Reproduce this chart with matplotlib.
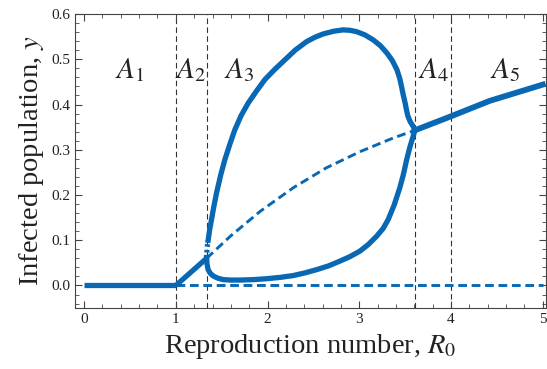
import matplotlib
matplotlib.use('Agg')
import matplotlib.pyplot as plt
from matplotlib.ticker import MultipleLocator

# stable disease-free state (R0 < 1) and unstable zero branch
r_zero_stable = [0.0, 1.0]
y_zero_stable = [0.0, 0.0]
r_zero_unstable = [1.0, 5.0]
y_zero_unstable = [0.0, 0.0]

# endemic branch between R0 = 1 and the first threshold
r_endemic = [1.0, 1.335]
y_endemic = [0.0, 0.06]

# unstable middle branch (dashed)
r_middle = [1.335, 1.6, 1.92, 2.28, 2.64, 3.01, 3.37, 3.606]
y_middle = [0.06, 0.11, 0.164, 0.216, 0.26, 0.296, 0.326, 0.343]

# upper stable branch
r_upper_dots = [1.335, 1.337, 1.342, 1.352]
y_upper_dots = [0.06, 0.07, 0.085, 0.1]
r_upper = [1.352, 1.37, 1.389, 1.41, 1.444, 1.49, 1.534, 1.59, 1.643, 1.71,
           1.788, 1.88, 1.97, 2.08, 2.19, 2.3, 2.425, 2.52, 2.606, 2.72,
           2.824, 2.9, 2.97, 3.06, 3.15, 3.23, 3.3, 3.36, 3.41, 3.44,
           3.46, 3.48, 3.5, 3.515, 3.53, 3.555, 3.58, 3.606]
y_upper = [0.1, 0.125, 0.146, 0.17, 0.205, 0.245, 0.278, 0.313, 0.344, 0.375,
           0.403, 0.43, 0.455, 0.478, 0.499, 0.52, 0.539, 0.549, 0.556, 0.562,
           0.565, 0.564, 0.561, 0.554, 0.543, 0.53, 0.514, 0.497, 0.477, 0.458,
           0.44, 0.42, 0.403, 0.387, 0.374, 0.362, 0.354, 0.345]

# lower stable branch
r_lower = [1.335, 1.34, 1.352, 1.375, 1.407, 1.46, 1.516, 1.6, 1.698, 1.85,
           1.99, 2.14, 2.28, 2.41, 2.534, 2.66, 2.79, 2.9, 3.007, 3.1,
           3.189, 3.26, 3.315, 3.38, 3.44, 3.48, 3.516, 3.55, 3.58, 3.606]
y_lower = [0.062, 0.047, 0.035, 0.027, 0.021, 0.016, 0.013, 0.012, 0.012, 0.013,
           0.015, 0.018, 0.022, 0.028, 0.035, 0.043, 0.054, 0.064, 0.076, 0.091,
           0.109, 0.126, 0.146, 0.178, 0.215, 0.245, 0.278, 0.305, 0.325, 0.343]

# single stable branch after the last threshold
r_right = [3.606, 4.0, 4.42, 5.0]
y_right = [0.343, 0.374, 0.408, 0.444]

thresholds = [1.0, 1.335, 3.606, 4.0]
region_labels = ['$A_1$', '$A_2$', '$A_3$', '$A_4$', '$A_5$']
region_x = [0.5, 1.16, 1.69, 3.81, 4.59]
region_y = 0.475

blue = '#0868b4'

plt.rcParams['font.family'] = ['Liberation Serif', 'DejaVu Serif']
plt.rcParams['mathtext.fontset'] = 'stix'

fig = plt.figure(figsize=(5.47, 3.69), dpi=100)
ax = fig.add_axes([0.137, 0.165, 0.862, 0.797])

for x in thresholds:
    ax.axvline(x, color='#333333', lw=0.8, ls=(0, (5, 3)), zorder=1)

thick = 3.8
thin = 2.1
ax.plot(r_zero_stable, y_zero_stable, color=blue, lw=thick, solid_capstyle='butt')
ax.plot(r_zero_unstable, y_zero_unstable, color=blue, lw=thin, ls=(0, (3, 1.6)))
ax.plot(r_endemic, y_endemic, color=blue, lw=thick, solid_capstyle='butt')
ax.plot(r_middle, y_middle, color=blue, lw=thin, ls=(0, (3, 1.6)))
ax.plot(r_upper_dots, y_upper_dots, color=blue, lw=thick, ls=(0, (0.5, 0.6)))
ax.plot(r_upper, y_upper, color=blue, lw=thick, solid_joinstyle='round')
ax.plot(r_lower, y_lower, color=blue, lw=thick, solid_joinstyle='round')
ax.plot(r_right, y_right, color=blue, lw=thick + 0.4, solid_joinstyle='round')

for lab, x in zip(region_labels, region_x):
    ax.text(x, region_y, lab, fontsize=21, ha='center', va='center', color='#222222')

ax.set_xlim(-0.1, 5.04)
ax.set_ylim(-0.05, 0.6)
ax.xaxis.set_major_locator(MultipleLocator(1))
ax.xaxis.set_minor_locator(MultipleLocator(0.2))
ax.yaxis.set_major_locator(MultipleLocator(0.1))
ax.yaxis.set_minor_locator(MultipleLocator(0.02))
ax.yaxis.set_major_formatter(plt.FuncFormatter(lambda v, p: f'{v:.1f}'))
ax.tick_params(which='both', direction='in', top=True, right=True,
               color='#444444', labelsize=11, labelcolor='#222222')
ax.tick_params(which='major', length=5, width=0.8)
ax.tick_params(which='minor', length=2.6, width=0.6)
for s in ax.spines.values():
    s.set_color('#444444')
    s.set_linewidth(0.8)

ax.set_xlabel('Reproduction number, $R_0$', fontsize=20.5, color='#222222', labelpad=4)
ax.set_ylabel('Infected population, $y$', fontsize=20.5, color='#222222', labelpad=4)

fig.savefig('out.png', dpi=100)
